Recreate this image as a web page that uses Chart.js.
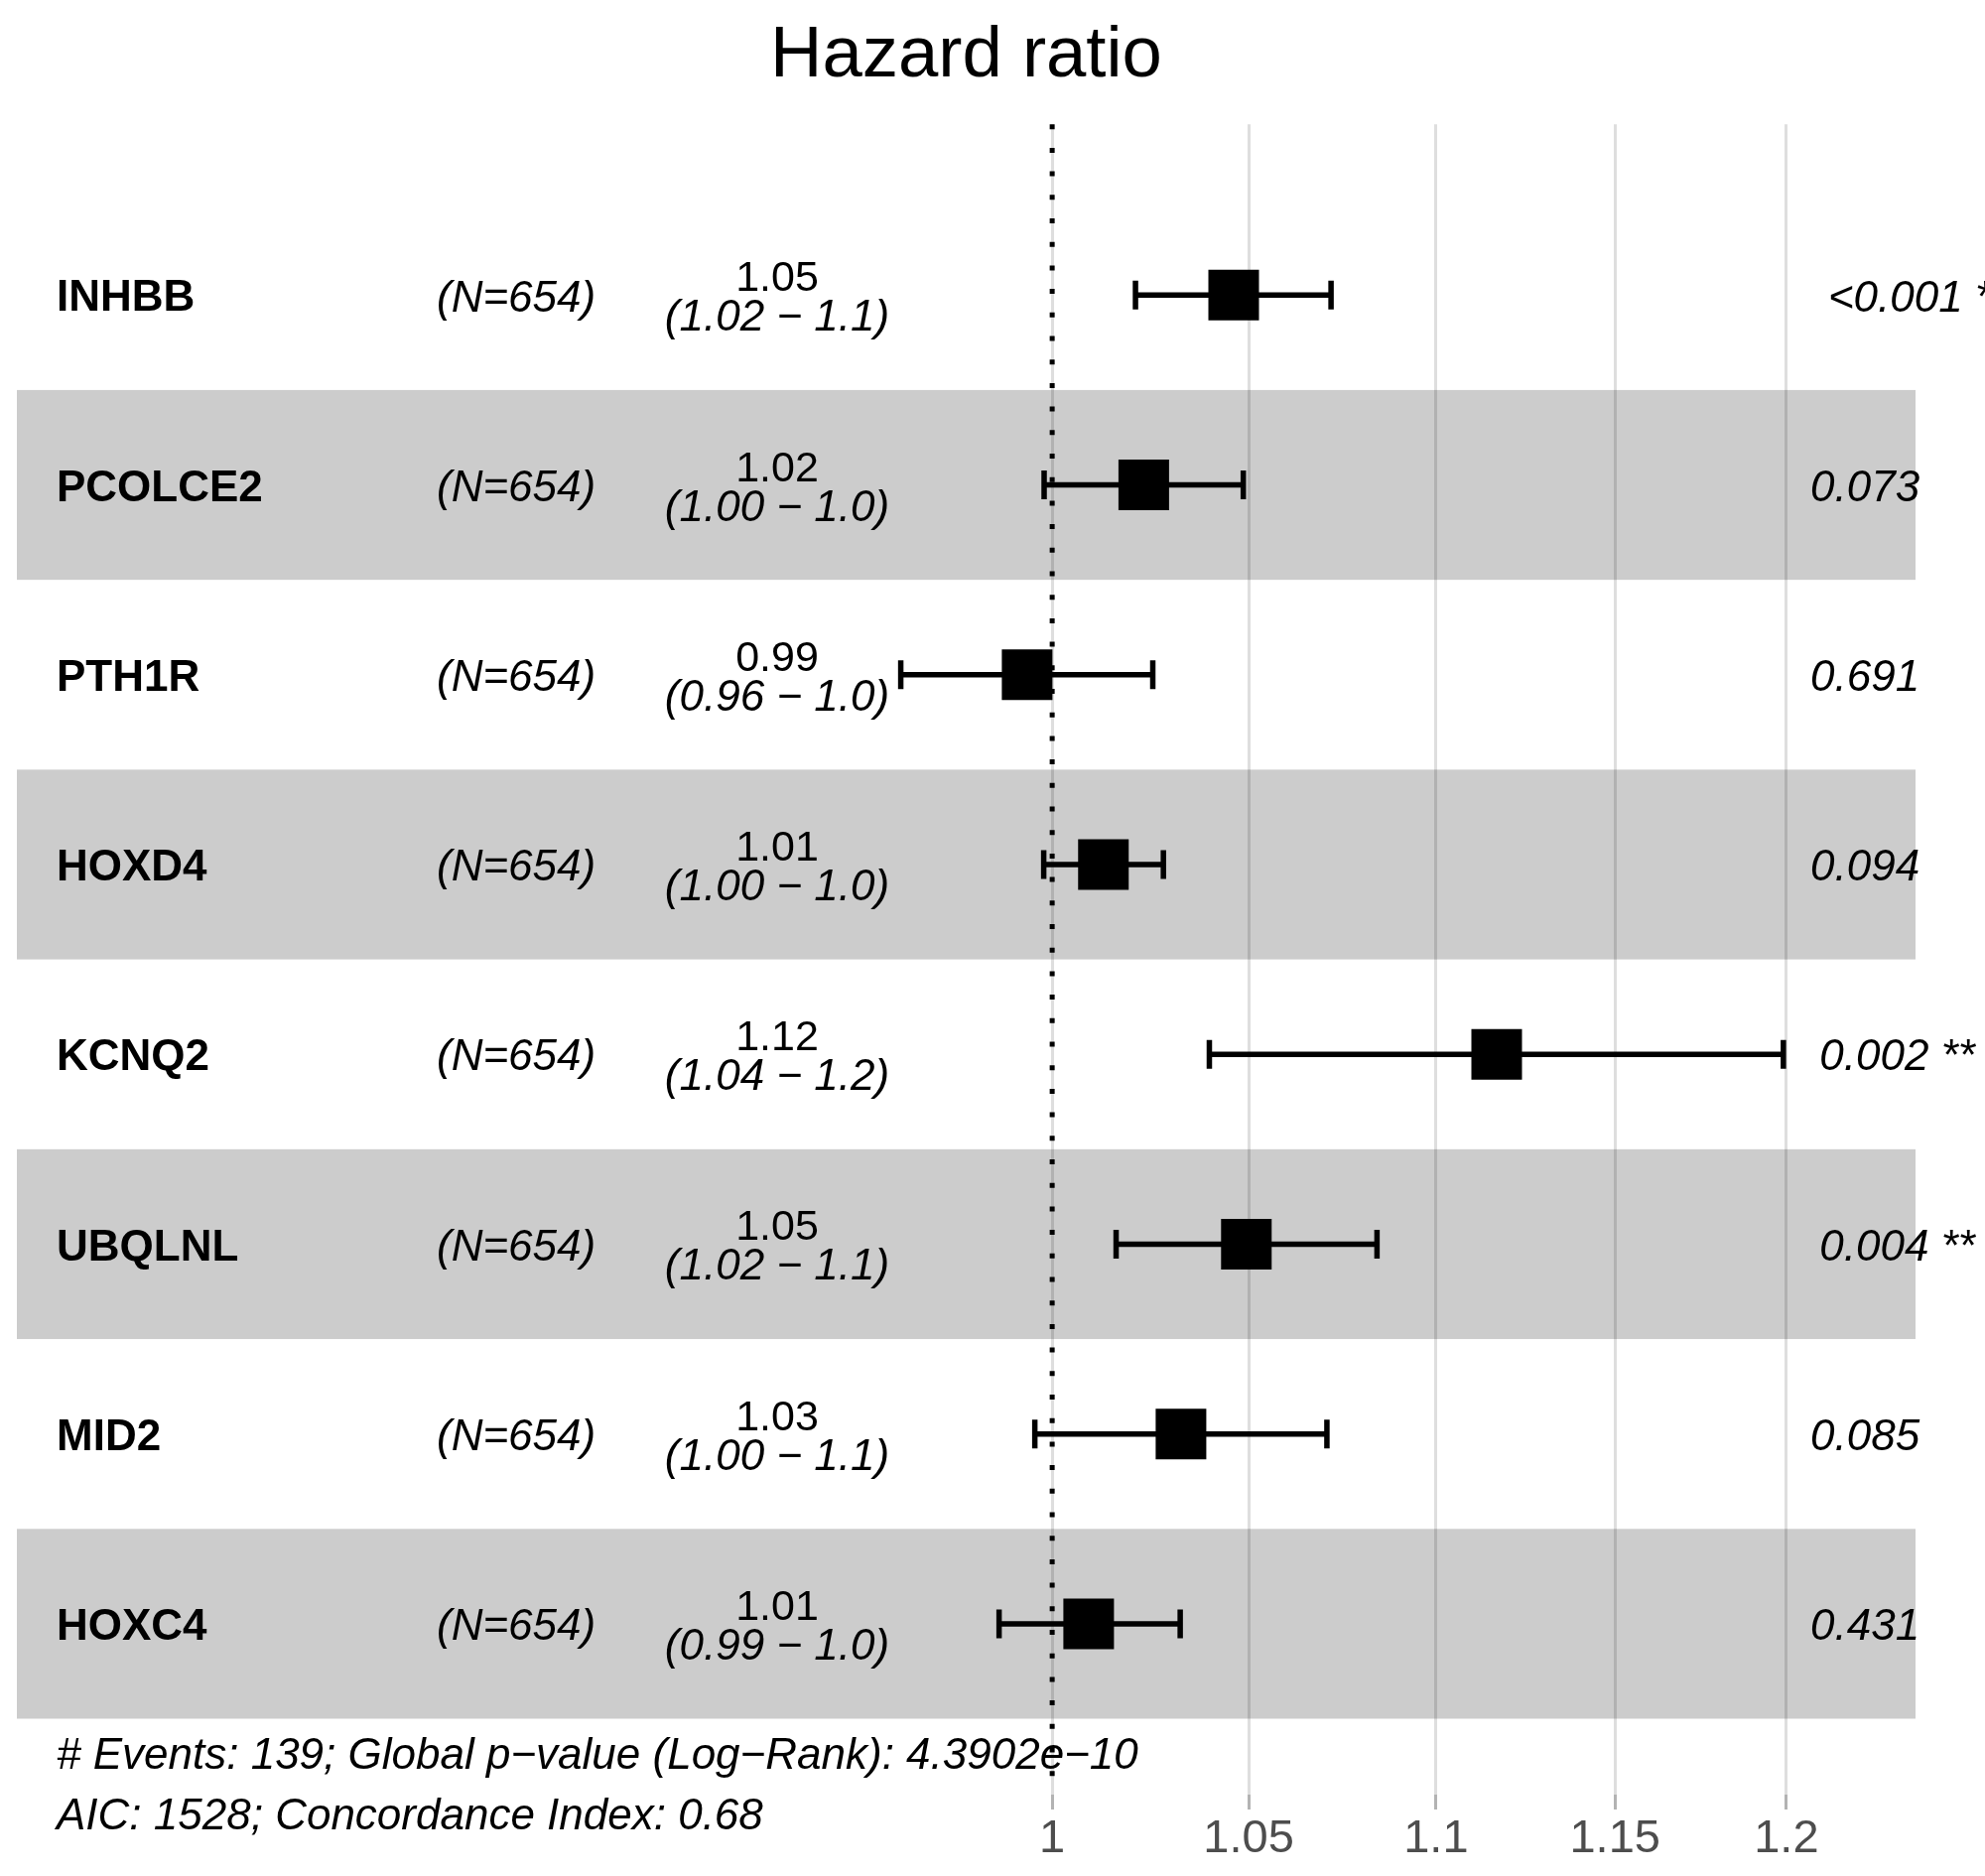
<!DOCTYPE html>
<html>
<head>
<meta charset="utf-8">
<title>Hazard ratio</title>
<script src="https://cdn.jsdelivr.net/npm/chart.js@4"></script>
<style>
  html, body { margin: 0; padding: 0; background: #fff; }
  #wrap { width: 2000px; height: 1890px; position: relative; }
</style>
</head>
<body>
<div id="wrap"><canvas id="forest"></canvas></div>
<script>
const genes = ['INHBB', 'PCOLCE2', 'PTH1R', 'HOXD4', 'KCNQ2', 'UBQLNL', 'MID2', 'HOXC4'];
const nText = ['(N=654)', '(N=654)', '(N=654)', '(N=654)', '(N=654)', '(N=654)', '(N=654)', '(N=654)'];
const hr     = [1.0461, 1.0230, 0.9938, 1.0128, 1.1167, 1.0494, 1.0325, 1.0091];
const ciLow  = [1.0209, 0.9980, 0.9631, 0.9979, 1.0398, 1.0160, 0.9957, 0.9869];
const ciHigh = [1.0717, 1.0486, 1.0253, 1.0280, 1.1991, 1.0840, 1.0706, 1.0323];
const hrText = ['1.05', '1.02', '0.99', '1.01', '1.12', '1.05', '1.03', '1.01'];
const ciText = ['(1.02 \u2212 1.1)', '(1.00 \u2212 1.0)', '(0.96 \u2212 1.0)', '(1.00 \u2212 1.0)',
                '(1.04 \u2212 1.2)', '(1.02 \u2212 1.1)', '(1.00 \u2212 1.1)', '(0.99 \u2212 1.0)'];
const pText = ['<0.001 ***', '0.073', '0.691', '0.094', '0.002 **', '0.004 **', '0.085', '0.431'];
const footLines = ['# Events: 139; Global p\u2212value (Log\u2212Rank): 4.3902e\u221210',
                   'AIC: 1528; Concordance Index: 0.68'];
const tickVals = [1, 1.05, 1.1, 1.15, 1.2];
const tickLabels = ['1', '1.05', '1.1', '1.15', '1.2'];

const FONT = "'Liberation Sans', Arial, Helvetica, sans-serif";

// bands, reference line, whiskers and the text columns
const forestPlugin = {
  id: 'forest',
  beforeDatasetsDraw(chart) {
    const { ctx, chartArea: a, scales: { x, y } } = chart;
    ctx.save();
    ctx.fillStyle = 'rgba(0,0,0,0.2)';
    genes.forEach((g, i) => {
      if (i % 2 === 1) {
        const t = y.getPixelForValue(i + 0.5), b = y.getPixelForValue(i + 1.5);
        ctx.fillRect(a.left, t, a.right - a.left, b - t);
      }
    });
    const x1 = x.getPixelForValue(1);
    ctx.strokeStyle = '#000';
    ctx.lineWidth = 5;
    ctx.setLineDash([5, 18.7]);
    ctx.beginPath(); ctx.moveTo(x1, a.top); ctx.lineTo(x1, a.bottom); ctx.stroke();
    ctx.setLineDash([]);
    ctx.lineWidth = 5.5;
    genes.forEach((g, i) => {
      const yc = y.getPixelForValue(i + 1);
      const xl = x.getPixelForValue(ciLow[i]), xh = x.getPixelForValue(ciHigh[i]);
      ctx.beginPath();
      ctx.moveTo(xl, yc); ctx.lineTo(xh, yc);
      ctx.moveTo(xl, yc - 14.5); ctx.lineTo(xl, yc + 14.5);
      ctx.moveTo(xh, yc - 14.5); ctx.lineTo(xh, yc + 14.5);
      ctx.stroke();
    });
    ctx.restore();
  },
  afterDraw(chart) {
    const { ctx, scales: { y } } = chart;
    ctx.save();
    ctx.fillStyle = '#000';
    genes.forEach((g, i) => {
      const yc = y.getPixelForValue(i + 1);
      ctx.textBaseline = 'middle';
      ctx.textAlign = 'left';
      ctx.font = 'bold 44px ' + FONT;
      ctx.fillText(g, 57, yc + 4);
      ctx.font = 'italic 44px ' + FONT;
      ctx.fillText(nText[i], 440, yc + 4);
      ctx.textBaseline = 'alphabetic';
      ctx.textAlign = 'center';
      ctx.font = '43px ' + FONT;
      ctx.fillText(hrText[i], 783, yc - 4);
      ctx.font = 'italic 44px ' + FONT;
      ctx.fillText(ciText[i], 783, yc + 36);
      ctx.textBaseline = 'middle';
      ctx.textAlign = 'left';
      const w = ctx.measureText(pText[i]).width;
      ctx.fillText(pText[i], 1802 + 0.2 * w, yc + 4);
    });
    const base = y.getPixelForValue(genes.length + 0.5);
    ctx.textBaseline = 'alphabetic';
    ctx.textAlign = 'left';
    ctx.font = 'italic 44px ' + FONT;
    ctx.fillText(footLines[0], 57, base + 50);
    ctx.fillText(footLines[1], 57, base + 111);
    ctx.restore();
  }
};

new Chart(document.getElementById('forest'), {
  type: 'scatter',
  data: {
    datasets: [{
      data: hr.map((v, i) => ({ x: v, y: i + 1 })),
      pointStyle: 'rect',
      pointRadius: 36.06,
      pointHoverRadius: 36.06,
      backgroundColor: '#000',
      borderWidth: 0
    }]
  },
  options: {
    responsive: true,
    maintainAspectRatio: false,
    animation: false,
    events: [],
    layout: { autoPadding: false, padding: { left: 17, right: 70, top: 0, bottom: 6.6 } },
    plugins: {
      legend: { display: false },
      tooltip: { enabled: false },
      title: {
        display: true,
        text: 'Hazard ratio',
        color: '#000',
        font: { family: FONT, size: 72.5, weight: 'normal' },
        padding: { top: 13.5, bottom: 24.7 }
      }
    },
    scales: {
      x: {
        type: 'logarithmic',
        min: 0.7733,
        max: 1.2391,
        position: 'bottom',
        afterBuildTicks: s => { s.ticks = tickVals.map(v => ({ value: v })); },
        ticks: {
          callback: (v, i) => tickLabels[i],
          color: '#4d4d4d',
          font: { family: FONT, size: 47 },
          padding: 2,
          maxRotation: 0,
          autoSkip: false
        },
        grid: { color: '#dedede', lineWidth: 3, tickLength: 15, tickColor: '#b3b3b3', tickWidth: 3 },
        border: { display: false }
      },
      y: { type: 'linear', display: false, min: 0.1, max: 8.9, reverse: true }
    }
  },
  plugins: [forestPlugin]
});
</script>
</body>
</html>
